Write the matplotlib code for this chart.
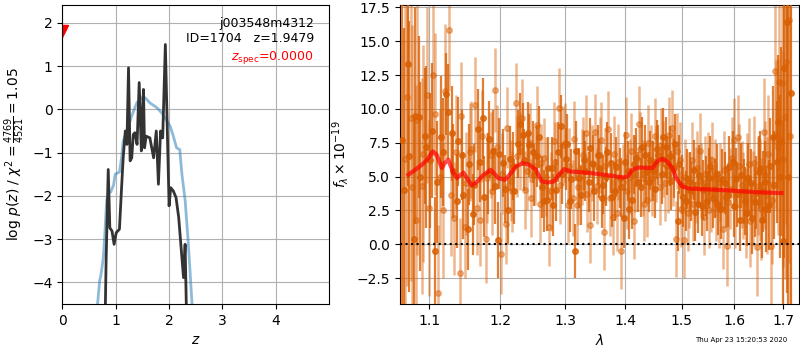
import matplotlib
matplotlib.use("Agg")
import matplotlib.pyplot as plt
from matplotlib.ticker import FixedLocator, FixedFormatter, NullLocator

# left panel: redshift probability
z_chi = [0.60, 0.66, 0.70, 0.72, 0.75, 0.77, 0.80, 0.83, 0.87, 0.91, 0.96, 0.99,
         1.02, 1.07, 1.11, 1.14, 1.21, 1.30, 1.395, 1.49, 1.55, 1.64, 1.77, 1.86,
         1.96, 2.02, 2.07, 2.14, 2.20, 2.24, 2.30, 2.36, 2.43, 2.50]
logp_chi = [-5.5, -4.5, -3.95, -3.85, -3.6, -3.4, -2.8, -2.1, -1.95, -1.9, -1.75, -1.5,
            -1.48, -1.45, -1.12, -0.73, -0.5, -0.15, 0.15, 0.27, 0.27, 0.15, 0.04, -0.08,
            -0.27, -0.39, -0.58, -0.89, -0.93, -1.5, -2.1, -3.1, -4.5, -5.5]

z_pz = [0.80, 0.82, 0.86, 0.89, 0.93, 0.97, 1.01, 1.07, 1.11, 1.14, 1.18, 1.21,
        1.24, 1.27, 1.30, 1.33, 1.36, 1.40, 1.44, 1.48, 1.50, 1.52, 1.54, 1.57,
        1.64, 1.71, 1.76, 1.80, 1.84, 1.88, 1.93, 1.97, 2.00, 2.03, 2.08, 2.13,
        2.18, 2.22, 2.27, 2.30, 2.33]
logp_pz = [-5.0, -3.51, -1.39, -2.74, -2.81, -3.12, -2.85, -2.77, -1.81, -1.12, -0.50, -0.81,
           0.96, -1.19, -1.12, -0.58, -0.54, -0.81, 0.62, -0.96, -0.19, 0.46, -0.89, -0.62,
           -0.66, -1.12, -0.50, -1.73, -0.50, -0.66, 1.50, -0.66, -2.23, -1.81, -1.89, -2.04,
           -2.50, -3.12, -3.89, -3.12, -5.0]

z_spec = 0.0
z_spec_mark = 1.8

# right panel: spectrum, four beams (a, c darker; b, d lighter)
wave_a = [1.064, 1.071, 1.079, 1.086, 1.094, 1.101, 1.108, 1.116, 1.123, 1.131,
          1.138, 1.145, 1.153, 1.160, 1.168, 1.175, 1.182, 1.190, 1.197, 1.205,
          1.212, 1.219, 1.227, 1.234, 1.242, 1.249, 1.256, 1.264, 1.271, 1.279,
          1.286, 1.293, 1.301, 1.308, 1.316, 1.323, 1.330, 1.338, 1.345, 1.353,
          1.360, 1.367, 1.375, 1.382, 1.390, 1.397, 1.404, 1.412, 1.419, 1.427,
          1.434, 1.441, 1.449, 1.456, 1.464, 1.471, 1.478, 1.486, 1.493, 1.501,
          1.508, 1.515, 1.523, 1.530, 1.538, 1.545, 1.552, 1.560, 1.567, 1.575,
          1.582, 1.589, 1.597, 1.604, 1.612, 1.619, 1.626, 1.634, 1.641, 1.649,
          1.656, 1.663, 1.671, 1.678, 1.686, 1.693, 1.700, 1.708, 1.715]
flux_a = [7.7, 13.3, 0.4, 9.4, 8.0, 6.2, -0.5, 7.9, 11.1, 8.2,
          3.2, 6.6, 1.1, 2.2, 8.5, 9.3, 5.2, 6.9, 0.3, 6.0,
          2.5, 5.8, 7.4, 8.1, 8.2, 6.8, 6.5, 4.2, 3.3, 5.6,
          4.0, 8.7, 6.3, 3.2, -0.5, 4.9, 6.2, 4.6, 5.9, 6.6,
          3.4, 5.0, 6.0, 3.9, 4.9, 1.9, 5.4, 3.3, 6.4, 4.2,
          6.6, 4.6, 5.4, 7.0, 5.2, 7.2, 6.5, 5.6, 1.7, 4.4,
          3.2, 4.6, 5.5, 3.0, 2.8, 4.3, 4.9, 3.4, 5.2, 2.6,
          4.5, 3.6, 6.1, 4.8, 1.8, 3.9, 2.3, 4.5, 3.1, 5.3,
          1.8, 4.6, 2.9, 7.9, 6.1, 5.0, 0.2, 16.4, 11.2]
err_a = [14, 9, 9, 6, 5, 5, 4, 4.5, 3, 3.5,
         3.5, 3.3, 3, 3, 3, 3, 3, 3, 2.8, 2.5,
         2.5, 2.5, 2.5, 2.3, 2.3, 2.3, 2.3, 2.3, 2.3, 2.3,
         2.3, 2.3, 2.3, 2.3, 2.0, 2.2, 2.2, 2.2, 2.2, 2.2,
         2.2, 2.2, 2.2, 2.2, 2.2, 2.2, 2.2, 2.2, 2.2, 2.2,
         2.2, 2.2, 2.2, 2.2, 2.2, 2.2, 2.2, 2.2, 2.2, 2.2,
         2.2, 2.2, 2.2, 2.2, 2.2, 2.2, 2.2, 2.2, 2.2, 2.2,
         2.3, 2.3, 2.3, 2.3, 2.3, 2.4, 2.4, 2.5, 2.6, 2.7,
         2.8, 3.0, 3.3, 3.8, 4.5, 6, 9, 20, 25]

wave_c = [1.066, 1.073, 1.081, 1.088, 1.096, 1.103, 1.110, 1.118, 1.125, 1.133,
          1.140, 1.147, 1.155, 1.162, 1.170, 1.177, 1.184, 1.192, 1.199, 1.207,
          1.214, 1.221, 1.229, 1.236, 1.244, 1.251, 1.258, 1.266, 1.273, 1.281,
          1.288, 1.295, 1.303, 1.310, 1.318, 1.325, 1.332, 1.340, 1.347, 1.355,
          1.362, 1.369, 1.377, 1.384, 1.392, 1.399, 1.406, 1.414, 1.421, 1.429,
          1.436, 1.443, 1.451, 1.458, 1.466, 1.473, 1.480, 1.488, 1.495, 1.503,
          1.510, 1.517, 1.525, 1.532, 1.540, 1.547, 1.554, 1.562, 1.569, 1.577,
          1.584, 1.591, 1.599, 1.606, 1.614, 1.621, 1.628, 1.636, 1.643, 1.651,
          1.658, 1.665, 1.673, 1.680, 1.688, 1.695, 1.702, 1.710]
flux_c = [4.0, 6.5, 9.5, 5.0, 7.2, 8.4, 4.6, 6.8, 9.8, 5.4,
          7.6, 3.6, 5.9, 4.4, 6.1, 3.5, 7.8, 4.3, 6.7, 4.1,
          6.3, 3.9, 8.9, 6.2, 7.3, 5.1, 7.9, 3.2, 5.6, 2.9,
          6.8, 5.2, 7.4, 4.8, 6.9, 3.6, 5.4, 7.1, 3.9, 5.6,
          4.4, 6.8, 3.5, 5.7, 4.2, 6.1, 2.6, 5.9, 4.6, 7.2,
          5.3, 6.2, 4.1, 6.6, 7.9, 5.8, 4.7, 7.4, 5.9, 3.5,
          4.8, 3.9, 2.4, 5.1, 4.0, 3.2, 5.8, 4.1, 2.9, 4.8,
          3.5, 5.7, 2.8, 3.7, 5.1, 3.2, 4.9, 1.9, 3.8, 5.6,
          3.9, 2.6, 5.8, 4.4, 9.0, 7.6, 13.0, 5.0]
err_c = [12, 10, 8, 7, 6, 5, 4.5, 4, 3.5, 3.5,
         3.3, 3.2, 3, 3, 3, 3, 2.8, 2.8, 2.6, 2.5,
         2.4, 2.4, 2.3, 2.3, 2.3, 2.3, 2.3, 2.3, 2.3, 2.3,
         2.2, 2.2, 2.2, 2.2, 2.2, 2.2, 2.2, 2.2, 2.2, 2.2,
         2.2, 2.2, 2.2, 2.2, 2.2, 2.2, 2.2, 2.2, 2.2, 2.2,
         2.2, 2.2, 2.2, 2.2, 2.2, 2.2, 2.2, 2.2, 2.2, 2.2,
         2.2, 2.2, 2.2, 2.2, 2.2, 2.2, 2.2, 2.2, 2.2, 2.2,
         2.3, 2.3, 2.3, 2.4, 2.4, 2.5, 2.6, 2.6, 2.7, 2.8,
         3.0, 3.2, 3.5, 4.0, 5, 7, 14, 22]

wave_b = [1.068, 1.075, 1.082, 1.090, 1.097, 1.105, 1.112, 1.119, 1.127, 1.134,
          1.142, 1.149, 1.156, 1.164, 1.171, 1.179, 1.186, 1.193, 1.201, 1.208,
          1.216, 1.223, 1.230, 1.238, 1.245, 1.253, 1.260, 1.267, 1.275, 1.282,
          1.290, 1.297, 1.304, 1.312, 1.319, 1.327, 1.334, 1.341, 1.349, 1.356,
          1.364, 1.371, 1.378, 1.386, 1.393, 1.401, 1.408, 1.415, 1.423, 1.430,
          1.438, 1.445, 1.452, 1.460, 1.467, 1.475, 1.482, 1.489, 1.497, 1.504,
          1.512, 1.519, 1.526, 1.534, 1.541, 1.549, 1.556, 1.563, 1.571, 1.578,
          1.586, 1.593, 1.600, 1.608, 1.615, 1.623, 1.630, 1.637, 1.645, 1.652,
          1.660, 1.667, 1.674, 1.682, 1.689, 1.697, 1.704, 1.711]
flux_b = [6.3, 9.3, 1.8, 4.3, 11.0, 12.5, -3.6, 2.5, 15.8, 1.9,
          -2.1, 1.3, 6.8, 10.3, 1.8, 0.4, 6.6, 11.4, -0.7, 1.5,
          4.7, 10.4, 6.9, 4.0, 7.5, 5.8, 3.0, 6.4, 1.3, 7.6,
          10.1, 7.3, 2.9, 3.4, 2.9, 5.7, 8.2, 1.4, 8.3, 6.6,
          0.9, 8.5, 2.0, 2.3, -0.5, 8.1, 5.0, 1.7, 8.9, 4.9,
          3.3, 6.0, 8.0, 4.2, 6.3, 5.1, 8.6, 0.4, 6.2, 0.3,
          2.3, 6.2, 4.4, 6.9, 2.0, 5.5, 3.7, 4.9, 2.6, 1.1,
          -0.1, 4.1, 7.7, 7.9, 4.4, 2.3, 5.9, 3.4, -0.2, 4.0,
          8.3, 3.6, -0.1, 12.8, 7.2, 11.9, 9.4, 16.6]
err_b = [14, 12, 10, 8, 6.5, 6, 5, 5, 4.5, 4.2,
         4, 3.8, 3.6, 3.5, 3.4, 3.3, 3.2, 3.1, 3.0, 3.0,
         3.0, 3.0, 2.9, 2.9, 2.9, 2.9, 2.9, 2.9, 2.9, 2.9,
         2.9, 2.9, 2.8, 2.8, 2.8, 2.8, 2.8, 2.8, 2.8, 2.8,
         2.8, 2.8, 2.8, 2.8, 2.8, 2.8, 2.8, 2.8, 2.8, 2.8,
         2.8, 2.8, 2.8, 2.8, 2.8, 2.8, 2.8, 2.8, 2.8, 2.8,
         2.8, 2.8, 2.8, 2.8, 2.8, 2.8, 2.8, 2.9, 2.9, 2.9,
         3.0, 3.0, 3.1, 3.1, 3.2, 3.3, 3.4, 3.5, 3.6, 3.8,
         4.0, 4.3, 4.8, 5.5, 6.5, 8, 12, 18]

wave_d = [1.070, 1.077, 1.084, 1.092, 1.099, 1.107, 1.114, 1.121, 1.129, 1.136,
          1.144, 1.151, 1.158, 1.166, 1.173, 1.181, 1.188, 1.195, 1.203, 1.210,
          1.218, 1.225, 1.232, 1.240, 1.247, 1.255, 1.262, 1.269, 1.277, 1.284,
          1.292, 1.299, 1.306, 1.314, 1.321, 1.329, 1.336, 1.343, 1.351, 1.358,
          1.366, 1.373, 1.380, 1.388, 1.395, 1.403, 1.410, 1.417, 1.425, 1.432,
          1.440, 1.447, 1.454, 1.462, 1.469, 1.477, 1.484, 1.491, 1.499, 1.506,
          1.514, 1.521, 1.528, 1.536, 1.543, 1.551, 1.558, 1.565, 1.573, 1.580,
          1.588, 1.595, 1.602, 1.610, 1.617, 1.625, 1.632, 1.639, 1.647, 1.654,
          1.662, 1.669, 1.676, 1.684, 1.691, 1.699, 1.706, 1.713]
flux_d = [10.9, 4.2, 9.2, 6.7, 2.7, 9.6, 5.0, 11.3, 3.6, 6.8,
          9.5, 4.5, 7.0, 2.7, 8.0, 4.9, 3.9, 7.2, 5.2, 8.6,
          3.9, 6.5, 9.3, 5.4, 3.4, 8.8, 6.0, 5.0, 3.9, 6.1,
          4.4, 7.5, 5.8, 7.8, 4.2, 6.6, 3.7, 6.0, 4.3, 7.7,
          5.8, 3.4, 6.7, 6.1, 4.6, 3.9, 6.9, 5.2, 7.0, 3.0,
          7.5, 4.9, 5.9, 7.3, 4.5, 8.1, 5.6, 6.9, 2.6, 5.0,
          4.0, 3.0, 5.6, 4.7, 5.2, 2.5, 6.2, 3.1, 4.6, 5.5,
          3.1, 6.4, 2.8, 5.8, 3.6, 4.9, 1.7, 6.0, 4.3, 2.6,
          5.1, 6.7, 3.3, 8.1, 12.0, 6.3, 13.5, 8.0]
err_d = [14, 12, 10, 8, 6.5, 6, 5, 5, 4.5, 4.2,
         4, 3.8, 3.6, 3.5, 3.4, 3.3, 3.2, 3.1, 3.0, 3.0,
         3.0, 3.0, 2.9, 2.9, 2.9, 2.9, 2.9, 2.9, 2.9, 2.9,
         2.9, 2.9, 2.8, 2.8, 2.8, 2.8, 2.8, 2.8, 2.8, 2.8,
         2.8, 2.8, 2.8, 2.8, 2.8, 2.8, 2.8, 2.8, 2.8, 2.8,
         2.8, 2.8, 2.8, 2.8, 2.8, 2.8, 2.8, 2.8, 2.8, 2.8,
         2.8, 2.8, 2.8, 2.8, 2.8, 2.8, 2.8, 2.9, 2.9, 2.9,
         3.0, 3.0, 3.1, 3.1, 3.2, 3.3, 3.4, 3.5, 3.6, 3.8,
         4.0, 4.3, 4.8, 5.5, 6.5, 8, 12, 18]

wave_model = [1.072, 1.090, 1.097, 1.1046, 1.110, 1.117, 1.121, 1.126, 1.133, 1.138,
              1.147, 1.152, 1.159, 1.167, 1.176, 1.186, 1.193, 1.197, 1.207, 1.214,
              1.224, 1.234, 1.244, 1.254, 1.263, 1.272, 1.282, 1.290, 1.298, 1.308,
              1.341, 1.373, 1.396, 1.404, 1.412, 1.424, 1.447, 1.456, 1.465, 1.474,
              1.483, 1.490, 1.501, 1.513, 1.537, 1.568, 1.600, 1.639, 1.696]
flux_model = [5.13, 5.87, 6.24, 6.86, 6.61, 5.63, 6.0, 6.24, 5.26, 4.89,
              5.30, 4.89, 4.34, 4.64, 5.13, 5.50, 5.13, 4.89, 4.76, 5.13,
              5.75, 6.0, 5.87, 5.50, 4.64, 4.56, 4.64, 5.13, 5.55, 5.38,
              5.26, 5.08, 4.93, 5.01, 5.50, 5.67, 5.63, 6.12, 6.30, 6.12,
              5.63, 4.89, 4.27, 4.12, 4.07, 4.02, 3.95, 3.85, 3.78]

wave_ticks = [1.1, 1.2, 1.3, 1.4, 1.5, 1.6, 1.7]
wave_ticklabels = ["1.1", "1.2", "1.3", "1.4", "1.5", "1.6", "1.7"]

spec_color = "#d95f02"

fig = plt.figure(figsize=(8, 3.5), dpi=100)

ax1 = fig.add_axes([0.0779, 0.1314, 0.333, 0.854])
ax1.plot(z_chi, logp_chi, color="tab:blue", alpha=0.5, lw=2)
ax1.plot(z_pz, logp_pz, color="0.2", lw=2)
ax1.plot(z_spec, z_spec_mark, "v", color="r", ms=8)
ax1.set_xlim(0, 4.99)
ax1.set_ylim(-4.5, 2.41)
ax1.set_xticks([0, 1, 2, 3, 4])
ax1.grid()
ax1.set_xlabel("$z$")
ax1.set_ylabel(r"log $p(z)$ / $\chi^2=\frac{4769}{4521}=1.05$")
ax1.text(0.945, 0.96, "j003548m4312\nID=1704   z=1.9479",
         ha="right", va="top", transform=ax1.transAxes, fontsize=9)
ax1.text(0.945, 0.826, r"$z_\mathrm{spec}$=0.0000", color="r",
         ha="right", va="center", transform=ax1.transAxes, fontsize=9)

ax2 = fig.add_axes([0.5, 0.1314, 0.49875, 0.854])
for w, f, e in [(wave_b, flux_b, err_b), (wave_d, flux_d, err_d)]:
    ax2.errorbar(w, f, yerr=e, fmt="o", color=spec_color, alpha=0.45,
                 ms=4, elinewidth=1.8, capsize=0, zorder=2)
for w, f, e in [(wave_a, flux_a, err_a), (wave_c, flux_c, err_c)]:
    ax2.errorbar(w, f, yerr=e, fmt="o", color=spec_color, alpha=0.8,
                 ms=4, elinewidth=1.6, capsize=0, zorder=3)
ax2.plot(wave_model, flux_model, color="r", lw=3, alpha=0.7, zorder=4)
ax2.axhline(0, color="k", ls=":", lw=1.5, zorder=5)
ax2.set_xscale("log")
ax2.xaxis.set_major_locator(FixedLocator(wave_ticks))
ax2.xaxis.set_major_formatter(FixedFormatter(wave_ticklabels))
ax2.xaxis.set_minor_locator(NullLocator())
ax2.set_xlim(1.061, 1.733)
ax2.set_ylim(-4.42, 17.67)
ax2.set_yticks([-2.5, 0.0, 2.5, 5.0, 7.5, 10.0, 12.5, 15.0, 17.5])
ax2.grid()
ax2.set_xlabel(r"$\lambda$")
ax2.set_ylabel(r"$f_\lambda\times10^{-19}$")

fig.text(0.984, 0.029, "Thu Apr 23 15:20:53 2020", ha="right", va="center", fontsize=5)

fig.savefig("out.png", dpi=100)
plt.close(fig)
